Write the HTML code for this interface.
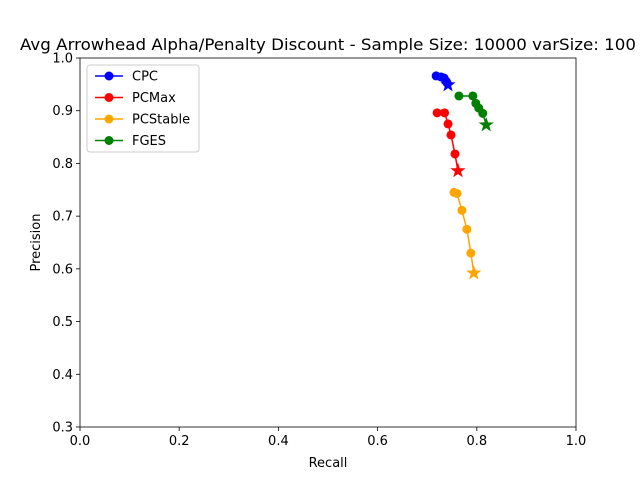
<!DOCTYPE html>
<html><head><meta charset="utf-8"><style>body{margin:0;background:#fff}svg{display:block;font-family:"DejaVu Sans","Liberation Sans",sans-serif}</style></head>
<body>
<svg id="chart" width="640" height="480"></svg>
<script>
const seriesNames=["CPC","PCMax","PCStable","FGES"];
const colors=["#0000ff","#ff0000","#ffa500","#008000"];
const cpcX=[0.718,0.728,0.734,0.738,0.740,0.742];
const cpcY=[0.966,0.964,0.962,0.956,0.953,0.949];
const pcmaxX=[0.72,0.735,0.742,0.748,0.756,0.762];
const pcmaxY=[0.896,0.896,0.875,0.854,0.818,0.786];
const pcstableX=[0.754,0.760,0.770,0.780,0.788,0.794];
const pcstableY=[0.745,0.743,0.711,0.675,0.630,0.592];
const fgesX=[0.764,0.792,0.798,0.804,0.812,0.819];
const fgesY=[0.928,0.928,0.914,0.905,0.895,0.873];
const xTicks=[0,0.2,0.4,0.6,0.8,1.0];
const yTicks=[0.3,0.4,0.5,0.6,0.7,0.8,0.9,1.0];
const NS="http://www.w3.org/2000/svg";
const svg=document.getElementById('chart');
const L=80,R=576,T=58,B=427;
const sx=v=>L+(v-0)/(1-0)*(R-L);
const sy=v=>B-(v-0.3)/(1.0-0.3)*(B-T);
function mk(tag,attrs,parent){const e=document.createElementNS(NS,tag);for(const k in attrs)e.setAttribute(k,attrs[k]);(parent||svg).appendChild(e);return e;}
const title=mk('text',{x:328,y:50,'text-anchor':'middle','font-size':16,fill:'#000',textLength:616,lengthAdjust:'spacingAndGlyphs'});
title.textContent="Avg Arrowhead Alpha/Penalty Discount - Sample Size: 10000 varSize: 100";


xTicks.forEach(t=>{
  const g=mk('g',{});
  
  
  mk('line',{x1:sx(t),x2:sx(t),y1:B,y2:B+4,stroke:'#000','stroke-width':0.8},g);
  const tx=mk('text',{x:sx(t),y:B+18,'text-anchor':'middle','font-size':13},g);tx.textContent=t.toFixed(1);
});
yTicks.forEach(t=>{
  const g=mk('g',{});
  
  
  mk('line',{x1:L-4,x2:L,y1:sy(t),y2:sy(t),stroke:'#000','stroke-width':0.8},g);
  const tx=mk('text',{x:L-7,y:sy(t)+4.5,'text-anchor':'end','font-size':13},g);tx.textContent=t.toFixed(1);
});
const xl=mk('text',{x:(L+R)/2,y:467,'text-anchor':'middle','font-size':13});xl.textContent='Recall';


const yl=mk('text',{x:40,y:(T+B)/2,'text-anchor':'middle','font-size':13,transform:`rotate(-90 40 ${(T+B)/2})`});yl.textContent='Precision';


function star(cx,cy,r){let p=[];for(let i=0;i<10;i++){const a=-Math.PI/2+i*Math.PI/5;const rr=i%2?r*0.4:r;p.push((cx+rr*Math.cos(a)).toFixed(1)+','+(cy+rr*Math.sin(a)).toFixed(1));}return p.join(' ');}
const data=[[cpcX,cpcY],[pcmaxX,pcmaxY],[pcstableX,pcstableY],[fgesX,fgesY]];
data.forEach((d,si)=>{
  const g=mk('g',{});
  
  
  const pts=d[0].map((x,i)=>sx(x)+','+sy(d[1][i])).join(' ');
  mk('polyline',{points:pts,fill:'none',stroke:colors[si],'stroke-width':1.5},g);
  d[0].forEach((x,i)=>{
    if(i===d[0].length-1){
      const s=mk('polygon',{points:star(sx(x),sy(d[1][i]),8),fill:colors[si]},g);
      
      
    } else {
      const c=mk('circle',{cx:sx(x),cy:sy(d[1][i]),r:4.5,fill:colors[si]},g);
      
      
    }
  });
});
const frame=mk('rect',{x:L,y:T,width:R-L,height:B-T,fill:'none',stroke:'#000','stroke-width':0.8});


const lg=mk('g',{});


mk('rect',{x:87,y:65,width:112,height:87,rx:3,fill:'#fff',stroke:'#ccc','stroke-width':1},lg);
seriesNames.forEach((n,i)=>{
  const y=76+i*21.5;
  const e=mk('g',{},lg);
  
  
  mk('line',{x1:95,x2:123,y1:y,y2:y,stroke:colors[i],'stroke-width':1.5},e);
  mk('circle',{cx:109,cy:y,r:4.5,fill:colors[i]},e);
  const t=mk('text',{x:132,y:y+4.5,'font-size':13},e);t.textContent=n;
});
</script>
</body></html>
